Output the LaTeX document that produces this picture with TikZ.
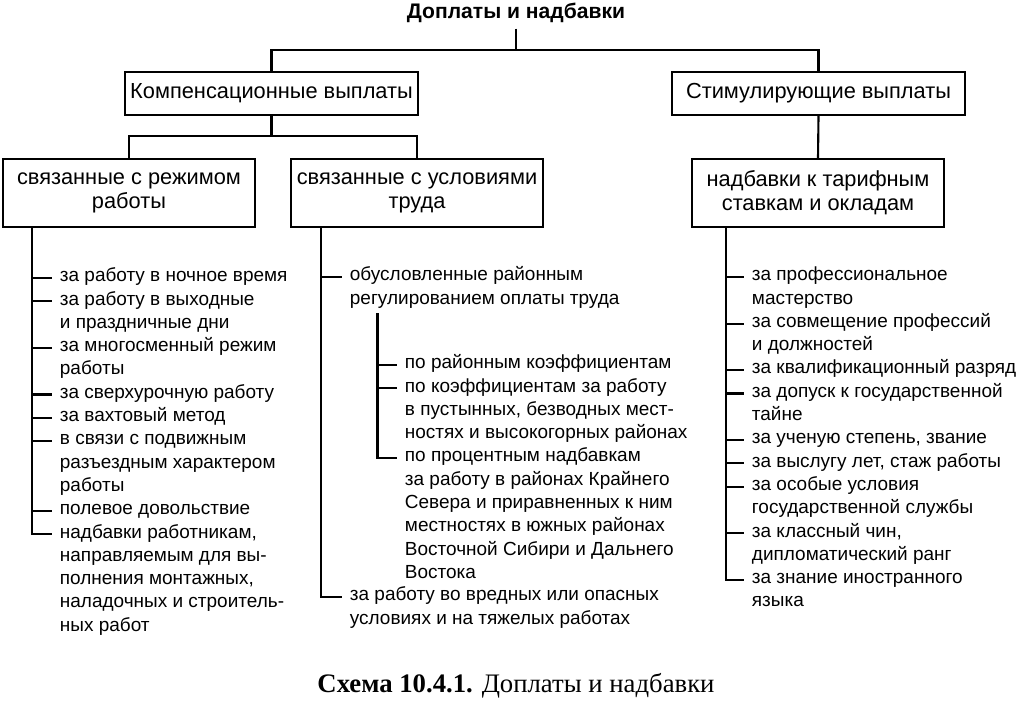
\documentclass[tikz,border=0pt]{standalone}
\usepackage{fontspec}
\setmainfont{Liberation Sans}
\newfontfamily\capfont{Liberation Serif}
\usetikzlibrary{positioning}
\newcommand{\itemtab}[1]{\begin{tabular}[t]{@{}l@{}}#1\end{tabular}}

\begin{document}
\begin{tikzpicture}[%
        x=0.025cm, y=-0.025cm,
        line width=1.5pt,
        node distance=0pt,
        box/.style={%
          draw,
          line width=1.6pt,
          align=center,
          font=\fontsize{15.5}{17}\selectfont
        },
        topbox/.style={box, minimum width=7.325cm, minimum height=1.075cm},
        subbox/.style={box, minimum width=6.3cm, minimum height=1.7cm},
        item/.style={%
          inner xsep=6pt, inner ysep=0pt, outer sep=0pt,
          font=\fontsize{13.5}{16.57}\selectfont
        },
        next/.style={below=of #1.south west, anchor=north west, item}
      ]
      \useasboundingbox (0,0) rectangle (1024,700);

      \node[font=\bfseries\fontsize{15}{18}\selectfont] (title) at (516,13) {Доплаты и надбавки};
      \node[topbox] (comp) at (271.5,93.5) {Компенсационные выплаты};
      \node[topbox] (stim) at (818.5,93.5) {Стимулирующие выплаты};
      \node[subbox] (rw) at (129,193) {связанные с режимом\\работы};
      \node[subbox] (ut) at (417,193) {связанные с условиями\\труда};
      \node[subbox] (nad) at (818,193) {надбавки к тарифным\\ставкам и окладам};

      \coordinate (j1) at (516,50);
      \coordinate (j2) at (271.5,136);
      \draw (title.south) -- (j1);
      \draw (comp.north) |- (j1) -| (stim.north);
      \draw (comp.south) -- (j2);
      \draw (rw.north) |- (j2) -| (ut.north);
      \draw (stim.south) -- (nad.north);

      % left list
      \node[item, anchor=mid west] (a1) at (51.5,278) {\itemtab{за работу в ночное время}};
      \node[next=a1] (a2) {\itemtab{за работу в выходные\\и праздничные дни}};
      \node[next=a2] (a3) {\itemtab{за многосменный режим\\работы}};
      \node[next=a3] (a4) {\itemtab{за сверхурочную работу}};
      \node[next=a4] (a5) {\itemtab{за вахтовый метод}};
      \node[next=a5] (a6) {\itemtab{в связи с подвижным\\разъездным характером\\работы}};
      \node[next=a6] (a7) {\itemtab{полевое довольствие}};
      \node[next=a7] (a8) {\itemtab{надбавки работникам,\\направляемым для вы-\\полнения монтажных,\\наладочных и строитель-\\ных работ}};

      \path (rw.south west) ++(30,0) coordinate (t1);
      \draw (t1) |- (a8.mid west);
      \foreach \i in {1,...,7}
        \draw (a\i.mid west -| t1) -- (a\i.mid west);

      % middle list
      \node[item, anchor=mid west] (m1) at (341.5,277) {\itemtab{обусловленные районным\\регулированием оплаты труда}};
      \node[item, anchor=mid west] (s1) at (396.5,365) {\itemtab{по районным коэффициентам}};
      \node[next=s1] (s2) {\itemtab{по коэффициентам за работу\\в пустынных, безводных мест-\\ностях и высокогорных районах}};
      \node[next=s2] (s3) {\itemtab{по процентным надбавкам\\за работу в районах Крайнего\\Севера и приравненных к ним\\местностях в южных районах\\Восточной Сибири и Дальнего\\Востока}};
      \node[item, anchor=mid west] (m2) at (341.5,597) {\itemtab{за работу во вредных или опасных\\условиях и на тяжелых работах}};

      \path (ut.south west) ++(31,0) coordinate (t2);
      \draw (t2) |- (m2.mid west);
      \draw (m1.mid west -| t2) -- (m1.mid west);
      \path (m1.south west) ++(36,2) coordinate (t3);
      \draw (t3) |- (s3.mid west);
      \foreach \i in {1,2}
        \draw (s\i.mid west -| t3) -- (s\i.mid west);

      % right list
      \node[item, anchor=mid west] (r1) at (743.5,277) {\itemtab{за профессиональное\\мастерство}};
      \node[next=r1] (r2) {\itemtab{за совмещение профессий\\и должностей}};
      \node[next=r2] (r3) {\itemtab{за квалификационный разряд}};
      \node[next=r3] (r4) {\itemtab{за допуск к государственной\\тайне}};
      \node[next=r4] (r5) {\itemtab{за ученую степень, звание}};
      \node[next=r5] (r6) {\itemtab{за выслугу лет, стаж работы}};
      \node[next=r6] (r7) {\itemtab{за особые условия\\государственной службы}};
      \node[next=r7] (r8) {\itemtab{за классный чин,\\дипломатический ранг}};
      \node[next=r8] (r9) {\itemtab{за знание иностранного\\языка}};

      \path (nad.south west) ++(35,0) coordinate (t4);
      \draw (t4) |- (r9.mid west);
      \foreach \i in {1,...,8}
        \draw (r\i.mid west -| t4) -- (r\i.mid west);

      \node[font=\capfont\fontsize{19}{22}\selectfont] (cap) at (516,686) {\textbf{Схема 10.4.1.} Доплаты и надбавки};
\end{tikzpicture}
\end{document}
